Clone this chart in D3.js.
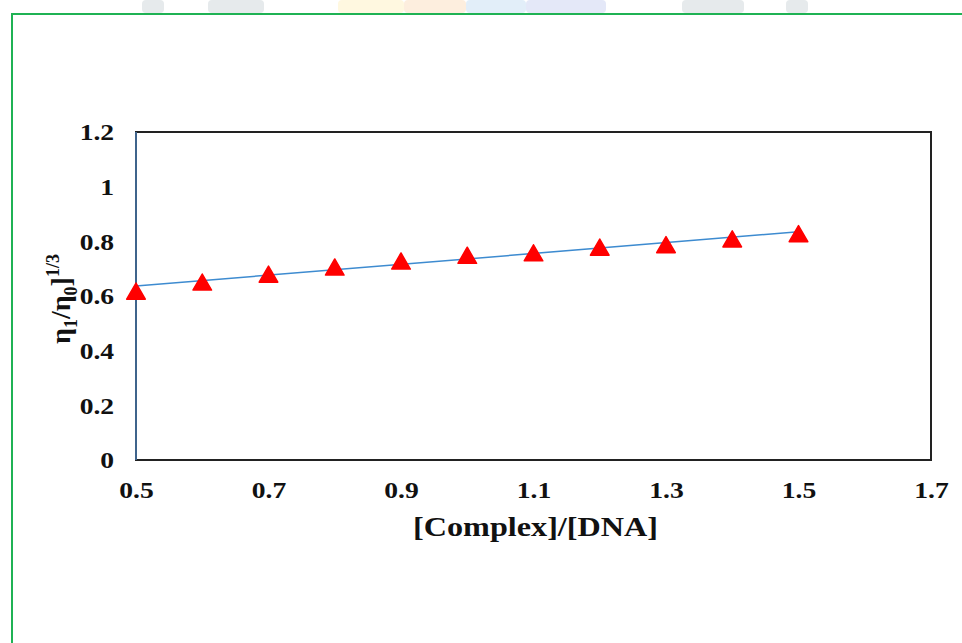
<!DOCTYPE html>
<html>
<head>
<meta charset="utf-8">
<script src="https://cdn.jsdelivr.net/npm/d3@7"></script>
<style>
    html, body { margin: 0; padding: 0; background: #fff; }
    svg { display: block; }
</style>
</head>
<body>
<div id="chart"></div>
<script>
// ratio values and the measured cube root of relative viscosity
const ratios = [0.5, 0.6, 0.7, 0.8, 0.9, 1.0, 1.1, 1.2, 1.3, 1.4, 1.5];
const viscosity = [0.618, 0.651, 0.680, 0.706, 0.728, 0.749, 0.758, 0.779, 0.788, 0.809, 0.828];
const xTicks = [0.5, 0.7, 0.9, 1.1, 1.3, 1.5, 1.7];
const yTicks = [0, 0.2, 0.4, 0.6, 0.8, 1, 1.2];

const width = 962;
const height = 643;
const margin = { top: 132, right: 31, bottom: 183, left: 136 };
const stretch = 1.15; // the source text is a bit wide

const svg = d3.select('#chart')
    .append('svg')
    .attr('width', width)
    .attr('height', height);

// faint watermark bits peeking above the frame
const wm = svg.append('g').attr('class', 'watermark');
[
    { x: 142, w: 22, c: '#e6eaec' },
    { x: 208, w: 56, c: '#e6eaec' },
    { x: 338, w: 66, c: '#fff8e0' },
    { x: 404, w: 62, c: '#fdeede' },
    { x: 466, w: 60, c: '#e2eef9' },
    { x: 526, w: 80, c: '#e4e8f8' },
    { x: 682, w: 62, c: '#e6eaec' },
    { x: 786, w: 22, c: '#e6eaec' },
].forEach((d) => {
    wm.append('rect')
        .attr('x', d.x).attr('y', 0)
        .attr('width', d.w).attr('height', 13)
        .attr('rx', 4)
        .attr('fill', d.c);
});

// green frame
svg.append('path')
    .attr('d', 'M12,660 L12,14 L980,14')
    .attr('fill', 'none')
    .attr('stroke', '#1fb254')
    .attr('stroke-width', 2);

const x = d3.scaleLinear()
    .domain([0.5, 1.7])
    .range([margin.left, width - margin.right]);

const y = d3.scaleLinear()
    .domain([0, 1.2])
    .range([height - margin.bottom, margin.top]);

const font = "'Liberation Serif', 'Times New Roman', serif";

// plot box
svg.append('rect')
    .attr('x', x(0.5))
    .attr('y', y(1.2))
    .attr('width', x(1.7) - x(0.5))
    .attr('height', y(0) - y(1.2))
    .attr('fill', 'none')
    .attr('stroke', '#222')
    .attr('stroke-width', 2);

svg.append('line')
    .attr('x1', x(0.5)).attr('x2', x(0.5))
    .attr('y1', y(1.2)).attr('y2', y(0))
    .attr('stroke', '#4a7bb0')
    .attr('stroke-width', 1.5);

// axes (labels only)
const xAxis = svg.append('g')
    .attr('transform', `translate(0, ${y(0)})`)
    .call(d3.axisBottom(x).tickValues(xTicks).tickSize(0).tickPadding(21)
        .tickFormat((d) => d3.format('.1f')(d)));

const yAxis = svg.append('g')
    .attr('transform', `translate(${x(0.5)}, 0)`)
    .call(d3.axisLeft(y).tickValues(yTicks).tickSize(0).tickPadding(19)
        .tickFormat((d) => String(d)));

[xAxis, yAxis].forEach((g) => {
    g.select('.domain').remove();
    g.selectAll('text')
        .attr('fill', '#111')
        .attr('transform', `scale(${stretch}, 1)`)
        .style('font-family', font)
        .style('font-weight', 'bold')
        .style('font-size', '24px');
});
xAxis.selectAll('text').attr('dy', '0.71em');

// linear trendline from least squares
const mx = d3.mean(ratios);
const my = d3.mean(viscosity);
const slope = d3.sum(ratios, (r, i) => (r - mx) * (viscosity[i] - my)) /
    d3.sum(ratios, (r) => (r - mx) ** 2);
const intercept = my - slope * mx;
const ends = d3.extent(ratios);

svg.append('path')
    .datum(ends)
    .attr('d', d3.line()
        .x((d) => x(d))
        .y((d) => y(intercept + slope * d)))
    .attr('fill', 'none')
    .attr('stroke', '#3d8bd0')
    .attr('stroke-width', 1.5);

// triangle markers, box-centred on the point
const triSize = 150;
const triH = Math.sqrt(triSize * Math.sqrt(3));
svg.append('g')
    .selectAll('path')
    .data(ratios)
    .join('path')
    .attr('d', d3.symbol(d3.symbolTriangle, triSize))
    .attr('transform', (d, i) => `translate(${x(d)}, ${y(viscosity[i]) + triH / 6})`)
    .attr('fill', '#ff0000')
    .attr('stroke', '#ff0000')
    .attr('stroke-width', 1.5)
    .attr('stroke-linejoin', 'round');

// axis titles
svg.append('text')
    .attr('transform', `translate(${(x(0.5) + x(1.7)) / 2 + 2}, 536) scale(${stretch}, 1)`)
    .attr('text-anchor', 'middle')
    .style('font-family', font)
    .style('font-weight', 'bold')
    .style('font-size', '28px')
    .attr('fill', '#111')
    .text('[Complex]/[DNA]');

const yTitle = svg.append('text')
    .attr('transform', 'translate(70, 299) rotate(-90)')
    .attr('text-anchor', 'middle')
    .style('font-family', font)
    .style('font-weight', 'bold')
    .style('font-size', '28px')
    .attr('fill', '#111');

yTitle.append('tspan').text('η');
yTitle.append('tspan').attr('dy', 7).style('font-size', '18px').text('1');
yTitle.append('tspan').attr('dy', -7).text('/η');
yTitle.append('tspan').attr('dy', 7).style('font-size', '18px').text('0');
yTitle.append('tspan').attr('dy', -7).text(']');
yTitle.append('tspan').attr('dy', -11).style('font-size', '18px').text('1/3');
</script>
</body>
</html>
